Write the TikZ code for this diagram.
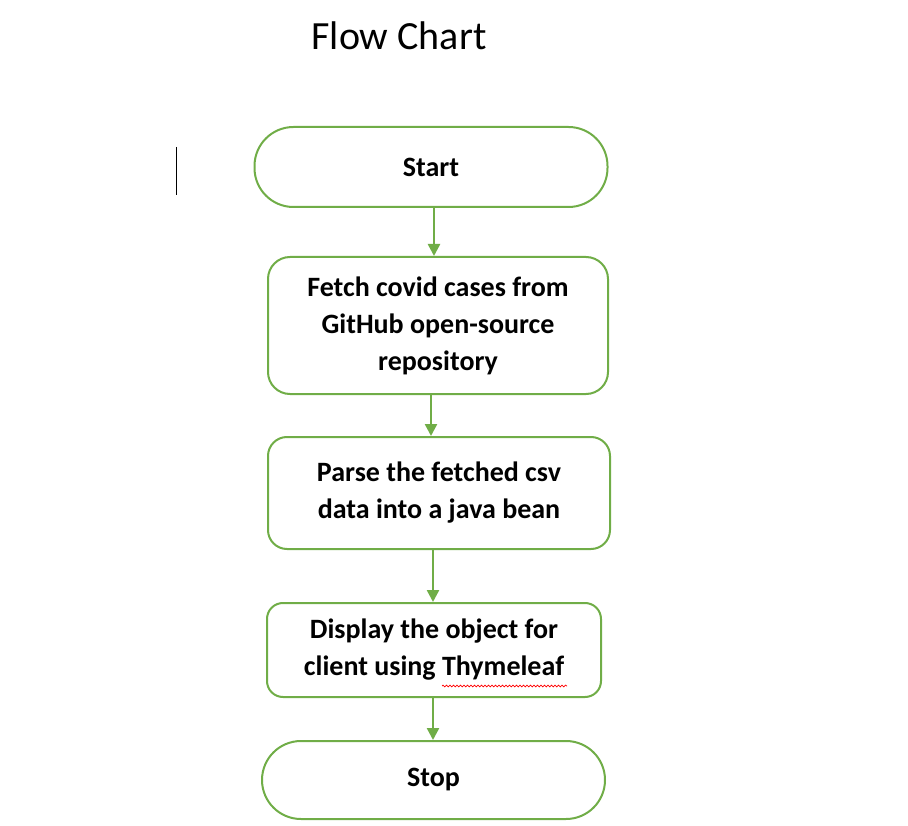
\documentclass[tikz,border=0pt]{standalone}
\usepackage{fontspec}
\setmainfont{Carlito}
\usetikzlibrary{arrows.meta,positioning,decorations.pathmorphing}
\definecolor{flowgreen}{HTML}{70AD47}

\begin{document}
\begin{tikzpicture}[x=1pt,y=-1pt,>={Triangle[length=12pt,width=12pt]},line width=2pt]
  \tikzstyle{terminal}=[draw=flowgreen,rounded corners=39pt,minimum height=80pt,font=\fontsize{28}{37}\selectfont\bfseries]
  \tikzstyle{process}=[draw=flowgreen,align=center,font=\fontsize{28}{37}\selectfont\bfseries]
  \tikzstyle{flow}=[->,draw=flowgreen,line width=2.5pt]

  \useasboundingbox (0,0) rectangle (908,826);

  \node (title) at (399,36) {\fontsize{40}{48}\selectfont Flow Chart};
  \draw[line width=1pt] (176,147) -- (176,195);

  \node[terminal,minimum width=353pt] (start)   at (431,167)   {Start};
  \node[process,rounded corners=22pt,minimum width=340pt,minimum height=137pt]
                                    (fetch)   at (438,325.5) {Fetch covid cases from\\GitHub open-source\\repository};
  \node[process,rounded corners=19pt,minimum width=342pt,minimum height=112pt]
                                    (parse)   at (439,493)   {Parse the fetched csv\\data into a java bean};
  \node[process,rounded corners=16pt,minimum width=334pt,minimum height=94pt]
                                    (display) at (434,650)   {Display the object for\\client using Thymeleaf};
  \node[terminal,minimum width=343pt,minimum height=78pt] (stop) at (433.5,780) {Stop};

  % spell-check mark under Thymeleaf
  \draw[red,line width=0.7pt,decorate,decoration={snake,amplitude=0.9pt,segment length=3.5pt}]
    (442,686) -- (567,686);

  \draw[flow] ([xshift=3pt]start.south)    -- ([xshift=3pt]start.south |- fetch.north);
  \draw[flow] ([xshift=-7pt]fetch.south)   -- ([xshift=-7pt]fetch.south |- parse.north);
  \draw[flow] ([xshift=-6pt]parse.south)   -- ([xshift=-6pt]parse.south |- display.north);
  \draw[flow] ([xshift=-1pt]display.south) -- ([xshift=-1pt]display.south |- stop.north);
\end{tikzpicture}
\end{document}
